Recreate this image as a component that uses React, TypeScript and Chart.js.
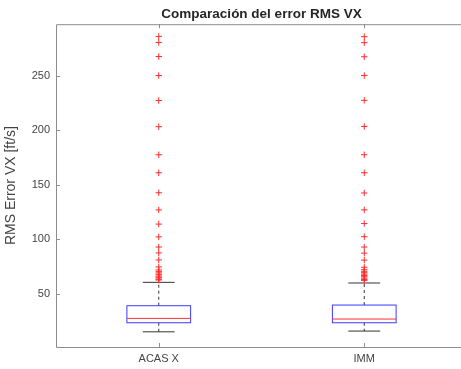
import React, { useEffect, useRef } from "react";
import { Chart, registerables } from "chart.js";

Chart.register(...registerables);

const categories = ["ACAS X", "IMM"];
const positions = [1, 2];
const q1 = [23.7, 23.7];
const median = [27.7, 27.1];
const q3 = [39.3, 39.9];
const whiskerLow = [15.4, 16.1];
const whiskerHigh = [60.7, 60.1];
const outliersAcas = [285.8, 280.3, 267.4, 250, 227.1, 203.2, 177.5, 161, 142.7, 127, 114, 102.3, 93, 87.6, 81.2, 74.8, 72, 70.5, 69.3, 68, 66.5, 65.5, 64.7, 63.5, 62.8];
const outliersImm = [285.6, 280.1, 267.2, 250, 227.3, 203.4, 177.5, 161, 142.5, 127, 114.5, 102.5, 93, 87.4, 81, 74.5, 72.3, 70.8, 69.5, 68.2, 67, 65.8, 64.5, 63.2, 62.5];
const yTicks = [50, 100, 150, 200, 250];

const AXIS_COLOR = "#8c8c8c";
const TEXT_COLOR = "#444444";
const CANVAS_W = 472;
const CANVAS_H = 369;

const boxPlugin = {
  id: "boxPlugin",
  afterLayout(chart: any) {
    const t = chart.titleBlock;
    if (t) {
      t.left = chart.chartArea.left;
      t.right = chart.chartArea.right;
    }
  },
  beforeDatasetsDraw(chart: any) {
    const { ctx, scales } = chart;
    const xs = scales.x;
    const ys = scales.y;
    const boxW = 0.31;
    ctx.save();
    for (let i = 0; i < categories.length; i++) {
      const p = positions[i];
      const xl = xs.getPixelForValue(p - boxW / 2);
      const xr = xs.getPixelForValue(p + boxW / 2);
      const xc = xs.getPixelForValue(p);
      const cl = xs.getPixelForValue(p - boxW / 4);
      const cr = xs.getPixelForValue(p + boxW / 4);
      const yq1 = ys.getPixelForValue(q1[i]);
      const yq3 = ys.getPixelForValue(q3[i]);
      const ym = ys.getPixelForValue(median[i]);
      const ywl = ys.getPixelForValue(whiskerLow[i]);
      const ywh = ys.getPixelForValue(whiskerHigh[i]);
      ctx.strokeStyle = "#333333";
      ctx.lineWidth = 1;
      ctx.setLineDash([3, 3]);
      ctx.beginPath();
      ctx.moveTo(xc, yq3);
      ctx.lineTo(xc, ywh);
      ctx.moveTo(xc, yq1);
      ctx.lineTo(xc, ywl);
      ctx.stroke();
      ctx.setLineDash([]);
      ctx.beginPath();
      ctx.moveTo(cl, ywh);
      ctx.lineTo(cr, ywh);
      ctx.moveTo(cl, ywl);
      ctx.lineTo(cr, ywl);
      ctx.stroke();
      ctx.strokeStyle = "#3b3bff";
      ctx.strokeRect(xl, yq3, xr - xl, yq1 - yq3);
      ctx.strokeStyle = "#ff3030";
      ctx.beginPath();
      ctx.moveTo(xl, ym);
      ctx.lineTo(xr, ym);
      ctx.stroke();
    }
    ctx.restore();
  },
  afterDraw(chart: any) {
    const { ctx, chartArea, scales } = chart;
    const { left, right, top, bottom } = chartArea;
    ctx.save();
    ctx.strokeStyle = AXIS_COLOR;
    ctx.lineWidth = 1;
    ctx.beginPath();
    ctx.moveTo(right, top + 0.5);
    ctx.lineTo(left + 0.5, top + 0.5);
    ctx.lineTo(left + 0.5, bottom + 0.5);
    ctx.lineTo(right, bottom + 0.5);
    ctx.stroke();
    ctx.beginPath();
    for (const v of yTicks) {
      const y = Math.round(scales.y.getPixelForValue(v)) + 0.5;
      ctx.moveTo(left, y);
      ctx.lineTo(left + 4, y);
    }
    for (const p of positions) {
      const x = Math.round(scales.x.getPixelForValue(p)) + 0.5;
      ctx.moveTo(x, bottom);
      ctx.lineTo(x, bottom - 4);
      ctx.moveTo(x, top);
      ctx.lineTo(x, top + 4);
    }
    ctx.stroke();
    ctx.restore();
  },
};

export default function App() {
  const ref = useRef<HTMLCanvasElement | null>(null);
  useEffect(() => {
    if (!ref.current) return;
    Chart.defaults.font.family = "'Liberation Sans', Arial, sans-serif";
    const chart = new Chart(ref.current, {
      type: "scatter",
      data: {
        datasets: [
          {
            label: categories[0],
            data: outliersAcas.map((v) => ({ x: positions[0], y: v })),
            pointStyle: "cross",
            radius: 3.2,
            borderColor: "#ff2a2a",
            backgroundColor: "#ff2a2a",
            borderWidth: 1,
          },
          {
            label: categories[1],
            data: outliersImm.map((v) => ({ x: positions[1], y: v })),
            pointStyle: "cross",
            radius: 3.2,
            borderColor: "#ff2a2a",
            backgroundColor: "#ff2a2a",
            borderWidth: 1,
          },
        ],
      },
      plugins: [boxPlugin],
      options: {
        responsive: false,
        animation: false,
        layout: { padding: 0 },
        plugins: {
          legend: { display: false },
          tooltip: { enabled: false },
          title: {
            display: true,
            text: "Comparación del error RMS VX",
            color: "#262626",
            font: { size: 13.5, weight: "bold" },
            padding: { top: 6, bottom: 2 },
          },
        },
        scales: {
          x: {
            type: "linear",
            min: 0.5,
            max: 2.5,
            grid: { display: false, drawTicks: false },
            border: { display: false },
            afterBuildTicks: (s: any) => {
              s.ticks = positions.map((p) => ({ value: p }));
            },
            afterFit: (s: any) => {
              s.height = 22;
            },
            ticks: {
              color: TEXT_COLOR,
              font: { size: 11 },
              padding: 5,
              callback: (v: any) => {
                const i = positions.indexOf(Number(v));
                return i >= 0 ? categories[i] : "";
              },
            },
          },
          y: {
            type: "linear",
            min: 1.5,
            max: 297,
            grid: { display: false, drawTicks: false },
            border: { display: false },
            afterBuildTicks: (s: any) => {
              s.ticks = yTicks.map((v) => ({ value: v }));
            },
            afterFit: (s: any) => {
              s.width = 56;
            },
            title: {
              display: true,
              text: "RMS Error VX [ft/s]",
              color: TEXT_COLOR,
              font: { size: 14 },
              padding: { top: 3, bottom: 0 },
            },
            ticks: {
              color: TEXT_COLOR,
              font: { size: 11 },
              padding: 6,
            },
          },
        },
      },
    } as any);
    return () => chart.destroy();
  }, []);
  return (
    <div style={{ position: "fixed", left: 0, top: 0, width: CANVAS_W, height: CANVAS_H, background: "#fff" }}>
      <canvas ref={ref} width={CANVAS_W} height={CANVAS_H} style={{ display: "block", width: CANVAS_W, height: CANVAS_H }} />
    </div>
  );
}
